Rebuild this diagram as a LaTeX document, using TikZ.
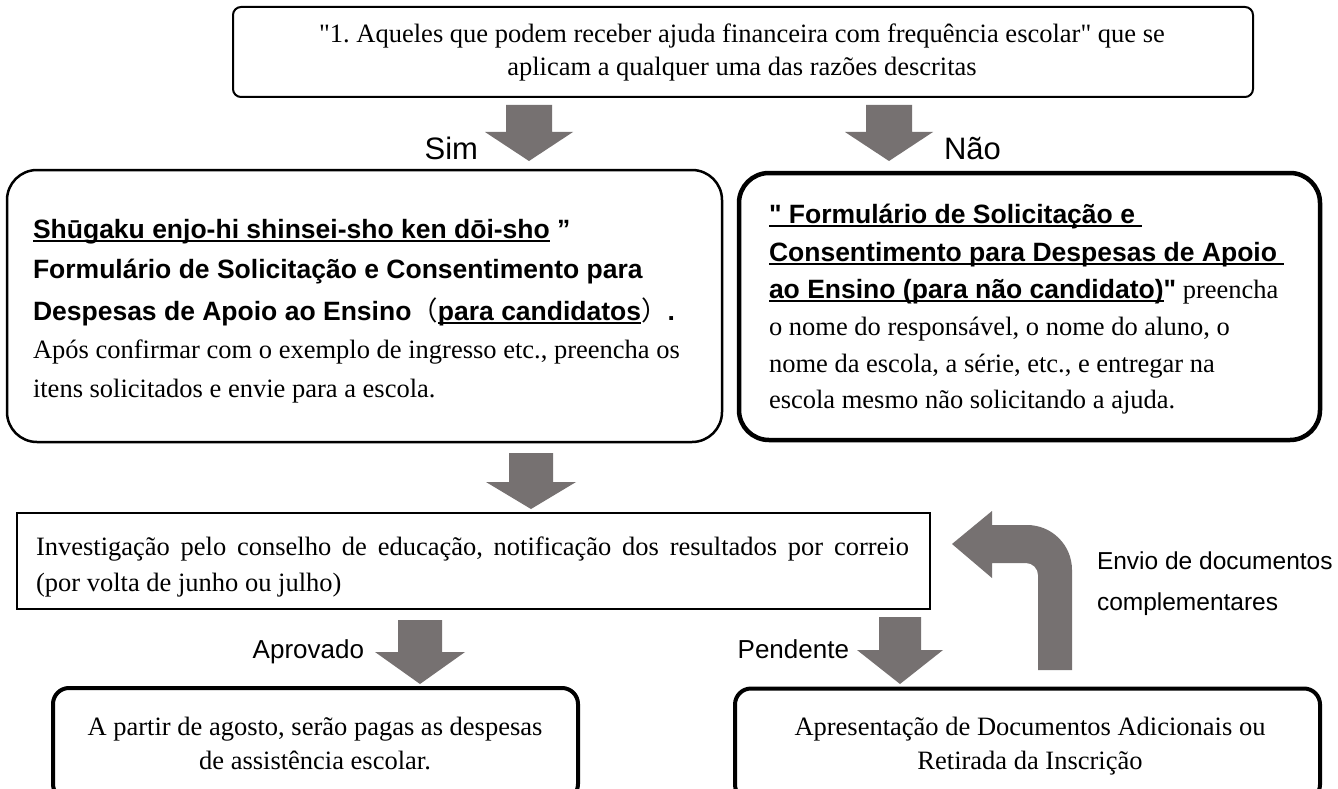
\documentclass[tikz,border=0pt]{standalone}
\usepackage{fontspec}
\setmainfont{Liberation Serif}[Ligatures=TeXOff]
\setsansfont{Liberation Sans}[Ligatures=TeXOff]
\newfontfamily\cjk{Noto Sans CJK JP}
\newcommand\myul[1]{\setbox0\hbox{#1}\makebox[0pt][l]{\rule[-3.5pt]{\wd0}{1.8pt}}\box0\relax}
\definecolor{blockgray}{RGB}{118,113,113}
\frenchspacing
\begin{document}
\begin{tikzpicture}[x=1pt,y=-1pt,
  frame/.style={draw=black,inner sep=0pt,outer sep=0pt},
  txt/.style={inner sep=0pt,outer sep=0pt},
  serif/.style={txt,font=\fontsize{26.5}{30}\selectfont\rmfamily},
  bsans/.style={txt,font=\fontsize{26.5}{30}\selectfont\sffamily\bfseries},
  lbl/.style={txt,font=\fontsize{26}{30}\selectfont\sffamily},
  smlbl/.style={txt,font=\fontsize{24.5}{30}\selectfont\sffamily},
  biglbl/.style={txt,font=\fontsize{31}{34}\selectfont\sffamily},
  blockfill/.style={fill=blockgray,draw=none}]
\newcommand\dnarrow[6]{\fill[blockfill] ({#1-#5},#2) -- ({#1+#5},#2) -- ({#1+#5},#3) -- ({#1+#6},#3) -- (#1,#4) -- ({#1-#6},#3) -- ({#1-#5},#3) -- cycle;}
\useasboundingbox (0,0) rectangle (1338,789);
\clip (0,0) rectangle (1338,789);
\fill[white] (0,0) rectangle (1338,789);

% boxes
\node[frame,line width=2pt,rounded corners=8pt,minimum width=1020pt,minimum height=90pt] (top) at (743,52) {};
\node[frame,line width=2.5pt,rounded corners=30pt,minimum width=715pt,minimum height=272pt] (yes) at (364.5,306) {};
\node[frame,line width=4.5pt,rounded corners=30pt,minimum width=581pt,minimum height=267pt] (no) at (1029.5,306.5) {};
\node[frame,line width=1.3pt,minimum width=913pt,minimum height=96pt] (mid) at (473.5,561) {};
\node[frame,line width=4pt,rounded corners=16pt,minimum width=525pt,minimum height=112pt] (ok) at (315.5,744) {};
\node[frame,line width=4pt,rounded corners=16pt,minimum width=585pt,minimum height=112pt] (pend) at (1027.5,744.5) {};

% top text
\node[serif,anchor=base] (t1) at (742,43) {"1. Aqueles que podem receber ajuda financeira com frequência escolar" que se};
\node[serif,anchor=base] (t2) at (742,76) {aplicam a qualquer uma das razões descritas};

% left box text
\node[bsans,anchor=base west] (y1) at (33,238) {\myul{Shūgaku enjo-hi shinsei-sho ken dōi-sho} ”};
\node[bsans,anchor=base west] (y2) at (33,278) {Formulário de Solicitação e Consentimento para};
\node[bsans,anchor=base west] (y3) at (33,320) {Despesas de Apoio ao Ensino{\cjk\mdseries （}\myul{para candidatos}{\cjk\mdseries ）}.};
\node[serif,anchor=base west] (y4) at (33,358) {Após confirmar com o exemplo de ingresso etc., preencha os};
\node[serif,anchor=base west] (y5) at (33,397) {itens solicitados e envie para a escola.};

% right box text
\node[bsans,anchor=base west] (n1) at (769,223) {\myul{" Formulário de Solicitação e\ }};
\node[bsans,anchor=base west] (n2) at (769,261) {\myul{Consentimento para Despesas de Apoio\ }};
\node[serif,anchor=base west] (n3) at (769,298) {{\sffamily\bfseries\myul{ao Ensino (para não candidato)}"} preencha};
\node[serif,anchor=base west] (n4) at (769,335) {o nome do responsável, o nome do aluno, o};
\node[serif,anchor=base west] (n5) at (769,372) {nome da escola, a série, etc., e entregar na};
\node[serif,anchor=base west] (n6) at (769,408) {escola mesmo não solicitando a ajuda.};

% middle text
\node[serif,anchor=base west] (m1) at (36,555) {\makebox[873pt][s]{Investigação pelo conselho de educação, notificação dos resultados por correio}};
\node[serif,anchor=base west] (m2) at (36,591) {(por volta de junho ou julho)};

% bottom texts
\node[serif,anchor=base] (o1) at (315,735) {A partir de agosto, serão pagas as despesas};
\node[serif,anchor=base] (o2) at (315,769) {de assistência escolar.};
\node[serif,anchor=base] (p1) at (1030,735) {Apresentação de Documentos Adicionais ou};
\node[serif,anchor=base] (p2) at (1030,769) {Retirada da Inscrição};

% labels
\node[biglbl,anchor=base east] (lsim) at (478,159) {Sim};
\node[biglbl,anchor=base west] (lnao) at (944,159) {Não};
\node[lbl,anchor=base east] (lapr) at (364,658) {Aprovado};
\node[lbl,anchor=base east] (lpen) at (849,658) {Pendente};
\node[smlbl,anchor=base west] (lenv1) at (1097,569) {Envio de documentos};
\node[smlbl,anchor=base west] (lenv2) at (1097,610) {complementares};

% block arrows
\dnarrow{529}{105}{132}{161}{23}{44}
\dnarrow{889}{105}{132}{161}{23}{44}
\dnarrow{531}{453}{482}{509}{22}{45}
\dnarrow{420}{620}{652}{684}{22}{45}
\dnarrow{900}{617}{650}{684}{21}{43}
% return arrow
\fill[blockfill] (1038,670) -- (1072,670) -- (1072,570)
  .. controls (1072,545.1) and (1051.9,525) .. (1027,525)
  -- (992,525) -- (992,511) -- (952,544) -- (992,578) -- (992,563) -- (1026,563)
  .. controls (1032.6,563) and (1038,568.4) .. (1038,575) -- cycle;
\end{tikzpicture}
\end{document}
